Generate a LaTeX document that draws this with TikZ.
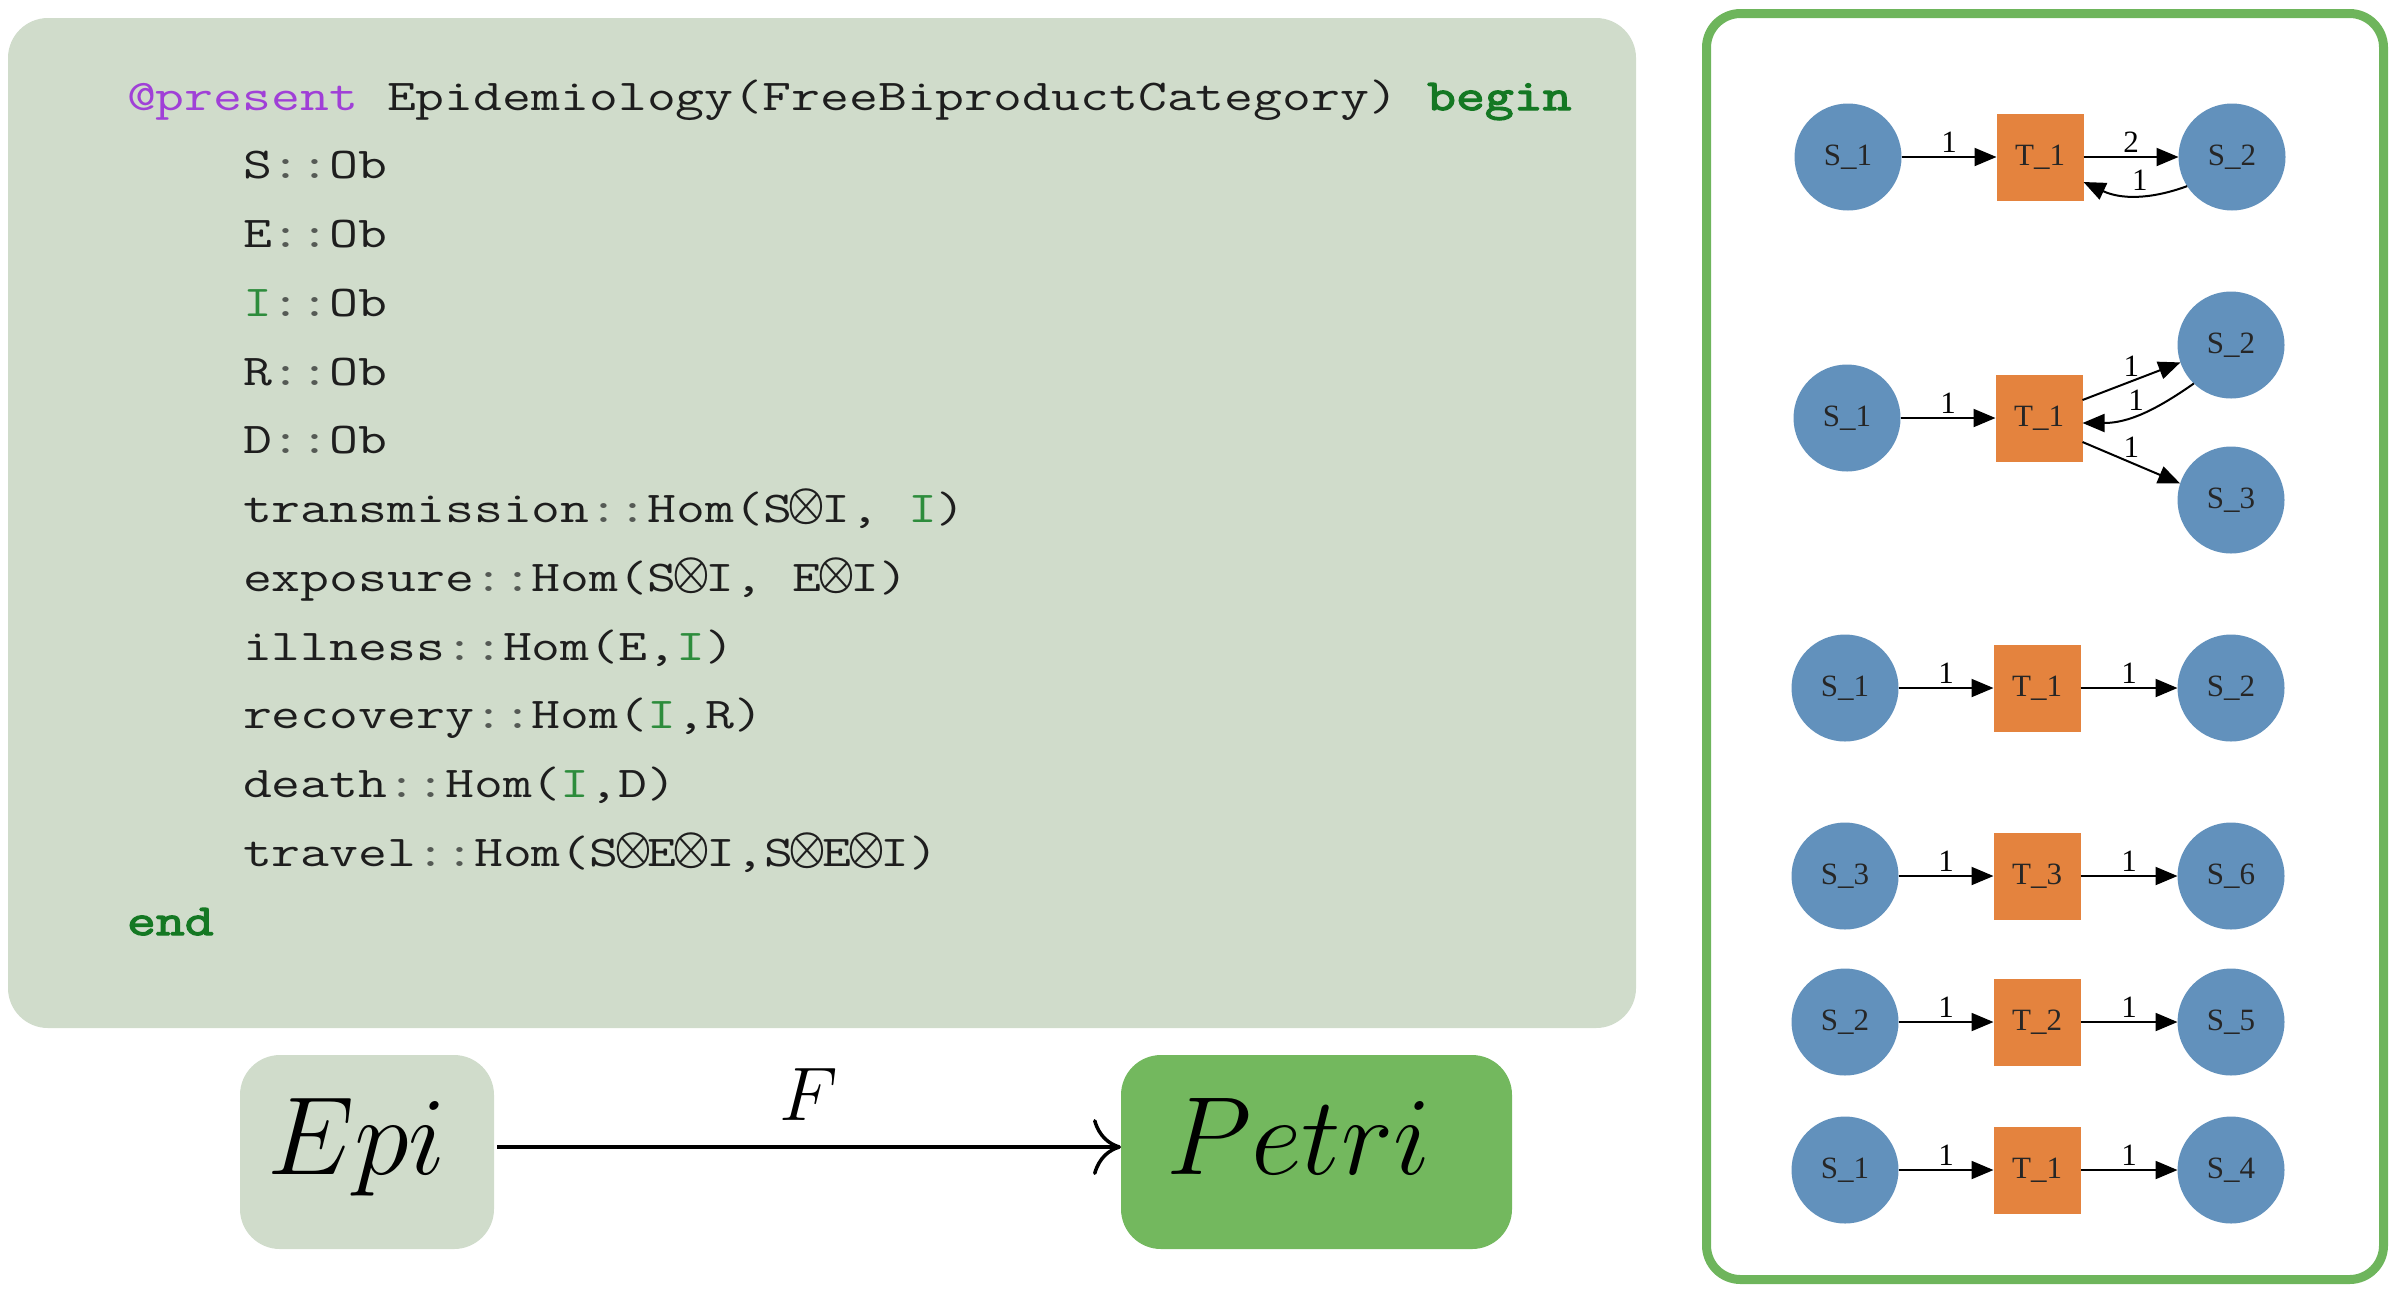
\RequirePackage{fix-cm}
\documentclass[tikz,border=0pt]{standalone}
\usepackage{fontspec}
\usepackage{graphicx}
\usetikzlibrary{arrows.meta,calc}
\newfontfamily\codefont[FakeStretch=1.275]{Latin Modern Mono}
\newfontfamily\codebfont[FakeStretch=1.275,FakeBold=3]{Latin Modern Mono}
\newfontfamily\gvfont{Liberation Serif}
\definecolor{sage}{RGB}{208,220,203}
\definecolor{petrigreen}{RGB}{115,184,94}
\definecolor{panelgreen}{RGB}{110,181,92}
\definecolor{placeblue}{RGB}{98,145,188}
\definecolor{transorange}{RGB}{228,131,62}
\definecolor{kwpurple}{RGB}{160,64,215}
\definecolor{kwgreen}{RGB}{20,120,35}
\definecolor{igreen}{RGB}{45,140,60}
\definecolor{colgray}{RGB}{85,90,85}
\definecolor{codeblack}{RGB}{30,30,30}
\newcommand{\ox}{\makebox[14.7pt]{\raisebox{1.9pt}{\scalebox{0.9}[1]{\fontsize{23.5}{24}\selectfont\boldmath$\otimes$}}}}
\newcommand{\gI}{\textcolor{igreen}{I}}
\newcommand{\dc}{\textcolor{colgray}{::}}
\newcommand{\kw}[1]{{\codebfont\color{kwgreen}#1}}
\begin{document}
\begin{tikzpicture}[x=0.5pt,y=-0.5pt,
  codeline/.style={anchor=base west, inner sep=0pt, outer sep=0pt, text=codeblack,
    font={\codefont\fontsize{22}{26}\selectfont}},
  place/.style={circle, fill=placeblue, minimum size=53.5pt, inner sep=0pt, outer sep=0pt,
    text=black!85, font={\gvfont\fontsize{15.5}{16}\selectfont}},
  trans/.style={rectangle, fill=transorange, minimum size=43.5pt, inner sep=0pt, outer sep=0pt,
    text=black!85, font={\gvfont\fontsize{15.5}{16}\selectfont}},
  parr/.style={-{Triangle[length=11pt,width=9pt]}, line width=1pt, black},
  lbl/.style={font={\gvfont\fontsize{15.5}{16}\selectfont}, inner sep=0pt, above=2pt},
  catbox/.style={rounded corners=20pt, minimum height=97pt, inner sep=0pt, outer sep=0pt,
    font={\fontsize{55.6}{60}\selectfont}, text height=39pt, text depth=17pt}
]
\useasboundingbox (0,0) rectangle (2391,1297);

% code panel
\node[fill=sage, rounded corners=20pt, minimum width=814pt, minimum height=505pt, inner sep=0pt] (codebox) at (822,523) {};
\node[codeline] (l0) at (127,110) {\textcolor{kwpurple}{@present} Epidemiology(FreeBiproductCategory) \kw{begin}};
\node[codeline] (l1) at (243,178.75) {S\dc Ob};
\node[codeline] (l2) at (243,247.5) {E\dc Ob};
\node[codeline] (l3) at (243,316.25) {\gI\dc Ob};
\node[codeline] (l4) at (243,385) {R\dc Ob};
\node[codeline] (l5) at (243,453.75) {D\dc Ob};
\node[codeline] (l6) at (243,522.5) {transmission\dc Hom(S\ox I, \gI)};
\node[codeline] (l7) at (243,591.25) {exposure\dc Hom(S\ox I, E\ox I)};
\node[codeline] (l8) at (243,660) {illness\dc Hom(E,\gI)};
\node[codeline] (l9) at (243,728.75) {recovery\dc Hom(\gI,R)};
\node[codeline] (l10) at (243,797.5) {death\dc Hom(\gI,D)};
\node[codeline] (l11) at (243,866.25) {travel\dc Hom(S\ox E\ox I,S\ox E\ox I)};
\node[codeline] (l12) at (127,935) {\kw{end}};

% functor
\node[catbox, fill=sage, minimum width=127pt] (epi) at (367,1152) {$Epi$\rule{10.5pt}{0pt}};
\node[catbox, fill=petrigreen, minimum width=195.5pt] (petri) at (1316.5,1152) {$Petri$\rule{18pt}{0pt}};
\draw[-{Computer Modern Rightarrow[length=14pt,width=28pt]}, line width=1.75pt]
  ([xshift=1.5pt,yshift=2.5pt]epi.east) -- node[pos=0.5, anchor=base, yshift=13.5pt, inner sep=0pt, font={\fontsize{38}{40}\selectfont}] (flab) {$F$} ([yshift=2.5pt]petri.west);

% right panel
\node[draw=panelgreen, line width=4.5pt, rounded corners=17pt, minimum width=338.5pt, minimum height=633pt, inner sep=0pt] (panel) at (2045,646.5) {};

% row 1
\node[place] (a1) at (1848,157) {S\_1};
\node[trans] (a2) at (2040,157) {T\_1};
\node[place] (a3) at (2232,157) {S\_2};
\draw[parr] (a1) -- node[lbl] {1} (a2);
\draw[parr] (a2) -- node[lbl] {2} (a3);
\draw[parr] (a3.213) to[out=200,in=-25] node[lbl, pos=0.45] {1} ([yshift=-12.5pt]a2.east);

% row 2
\node[place] (b1) at (1847,418) {S\_1};
\node[trans] (b2) at (2039,418) {T\_1};
\node[place] (b3) at (2231,345) {S\_2};
\node[place] (b4) at (2231,500) {S\_3};
\draw[parr] (b1) -- node[lbl] {1} (b2);
\draw[parr] ([yshift=9pt]b2.east) -- node[lbl] {1} (b3.199);
\draw[parr] (b3.226) to[out=215,in=0] node[lbl, pos=0.55] {1} ([yshift=-2.5pt]b2.east);
\draw[parr] ([yshift=-12pt]b2.east) -- node[lbl] {1} (b4.162);

% row 3
\node[place] (c1) at (1845,688) {S\_1};
\node[trans] (c2) at (2037,688) {T\_1};
\node[place] (c3) at (2231,688) {S\_2};
\draw[parr] (c1) -- node[lbl] {1} (c2);
\draw[parr] (c2) -- node[lbl] {1} (c3);

% row 4
\node[place] (d1) at (1845,876) {S\_3};
\node[trans] (d2) at (2037,876) {T\_3};
\node[place] (d3) at (2231,876) {S\_6};
\draw[parr] (d1) -- node[lbl] {1} (d2);
\draw[parr] (d2) -- node[lbl] {1} (d3);

% row 5
\node[place] (e1) at (1845,1022) {S\_2};
\node[trans] (e2) at (2037,1022) {T\_2};
\node[place] (e3) at (2231,1022) {S\_5};
\draw[parr] (e1) -- node[lbl] {1} (e2);
\draw[parr] (e2) -- node[lbl] {1} (e3);

% row 6
\node[place] (f1) at (1845,1170) {S\_1};
\node[trans] (f2) at (2037,1170) {T\_1};
\node[place] (f3) at (2231,1170) {S\_4};
\draw[parr] (f1) -- node[lbl] {1} (f2);
\draw[parr] (f2) -- node[lbl] {1} (f3);
\end{tikzpicture}
\end{document}
